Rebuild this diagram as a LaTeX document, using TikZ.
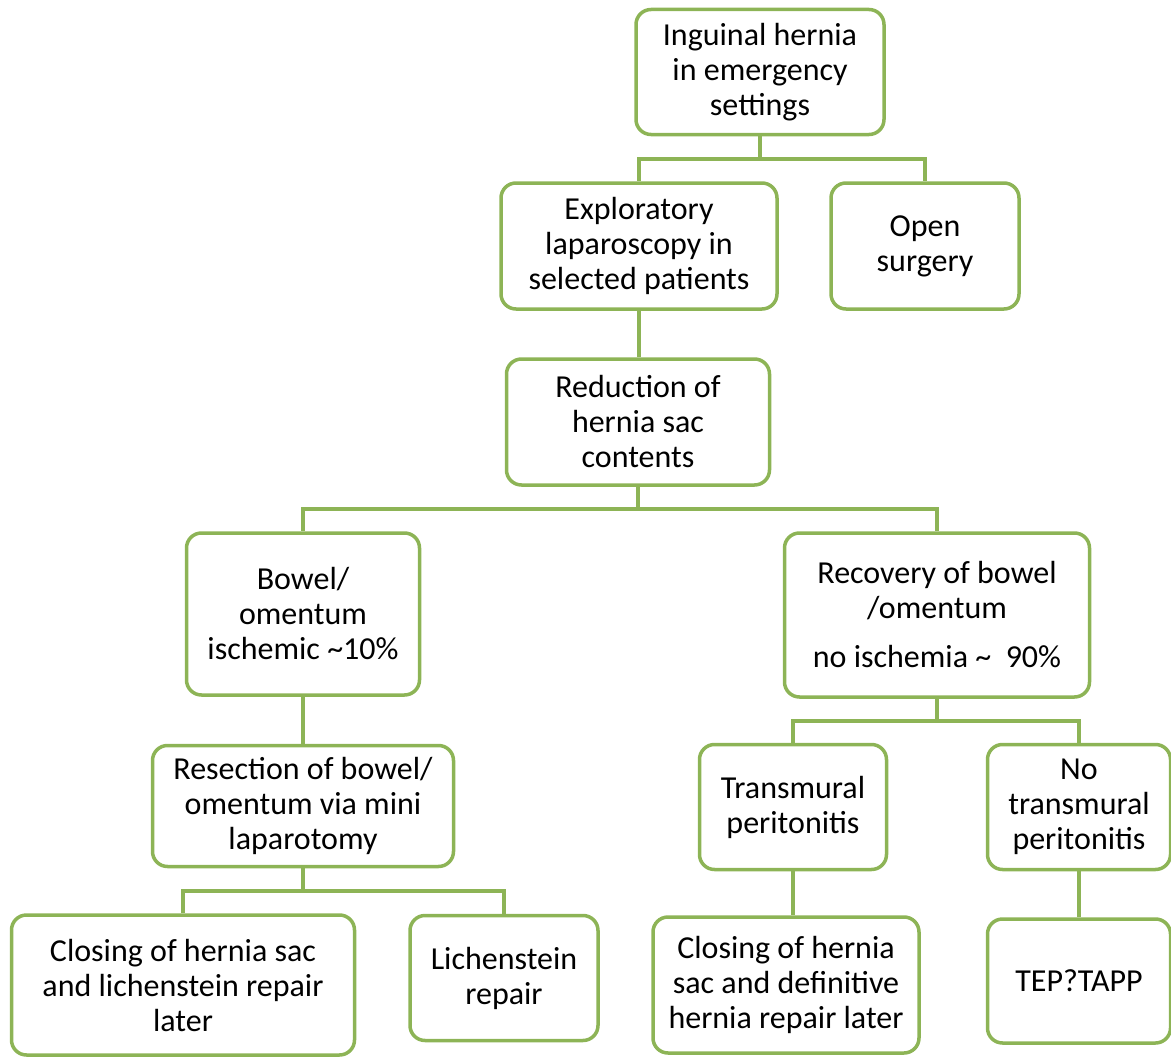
\documentclass[tikz,border=0pt]{standalone}
\usepackage{fontspec}
\setmainfont{Carlito}
\usepackage{xcolor}
\usetikzlibrary{calc}
\definecolor{leaf}{RGB}{141,180,86}

\begin{document}
\begin{tikzpicture}[x=1pt, y=-1pt,
  box/.style={draw=leaf, line width=3.5pt, rounded corners=15pt, align=center,
    font=\fontsize{32}{35}\selectfont, inner sep=2pt},
  link/.style={draw=leaf, line width=3.5pt}]
\useasboundingbox (0,0) rectangle (1171,1057);
\node[box, minimum width=248, minimum height=125] (hernia) at (760,72) {Inguinal hernia\\in emergency\\settings};
\node[box, minimum width=276, minimum height=126] (lap) at (639,246) {Exploratory\\laparoscopy in\\selected patients};
\node[box, minimum width=188, minimum height=126] (open) at (925,246) {Open\\surgery};
\node[box, minimum width=263, minimum height=126] (reduce) at (638,422) {Reduction of\\hernia sac\\contents};
\node[box, minimum width=233, minimum height=162] (ischemic) at (303,614) {Bowel/\\omentum\\ischemic \textasciitilde10\%};
\node[box, minimum width=305, minimum height=164] (recovery) at (937,615) {Recovery of bowel\\/omentum\\[14pt]no ischemia \textasciitilde{}\ \ 90\%};
\node[box, minimum width=301, minimum height=121] (resect) at (303,806) {Resection of bowel/\\omentum via mini\\laparotomy};
\node[box, minimum width=187, minimum height=125] (transm) at (793,807) {Transmural\\peritonitis};
\node[box, minimum width=183, minimum height=125] (notransm) at (1079,807) {No\\transmural\\peritonitis};
\node[box, minimum width=343, minimum height=140] (closelich) at (183,985) {Closing of hernia sac\\and lichenstein repair\\later};
\node[box, minimum width=188, minimum height=125] (lich) at (504,978) {Lichenstein\\repair};
\node[box, minimum width=266, minimum height=136] (closedef) at (786,985) {Closing of hernia\\sac and definitive\\hernia repair later};
\node[box, minimum width=183, minimum height=124] (tep) at (1079,981) {TEP?TAPP};
% branching bars
\coordinate (bar1) at ($(hernia.south)!.5!(lap.north)$);
\coordinate (bar2) at ($(reduce.south)!.5!(ischemic.north)$);
\coordinate (bar3) at ($(recovery.south)!.5!(transm.north)$);
\coordinate (bar4) at ($(resect.south)!.5!(closelich.north)$);
\draw[link] (hernia.south) -- (hernia.south |- bar1) -| (lap.north);
\draw[link] (hernia.south |- bar1) -| (open.north);
\draw[link] (lap.south) -- (lap.south |- reduce.north);
\draw[link] (reduce.south) -- (reduce.south |- bar2) -| (ischemic.north);
\draw[link] (reduce.south |- bar2) -| (recovery.north);
\draw[link] (ischemic.south) -- (ischemic.south |- resect.north);
\draw[link] (resect.south) -- (resect.south |- bar4) -| (closelich.north);
\draw[link] (resect.south |- bar4) -| (lich.north);
\draw[link] (recovery.south) -- (recovery.south |- bar3) -| (transm.north);
\draw[link] (recovery.south |- bar3) -| (notransm.north);
\draw[link] (transm.south) -- (transm.south |- closedef.north);
\draw[link] (notransm.south) -- (notransm.south |- tep.north);
\end{tikzpicture}
\end{document}
